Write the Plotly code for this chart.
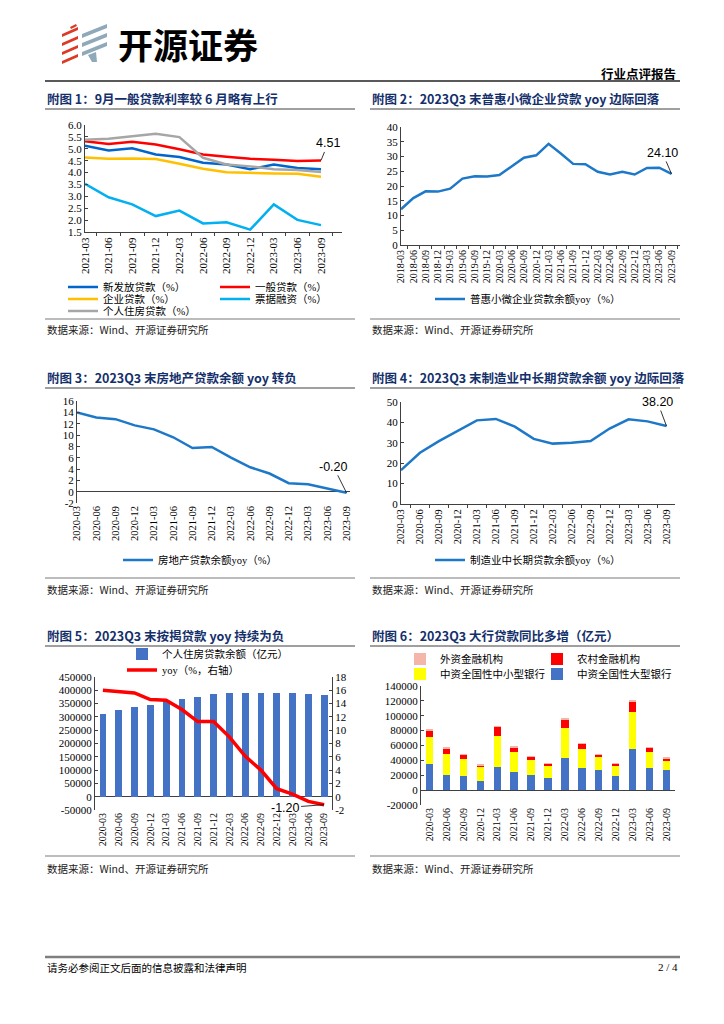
import plotly.graph_objects as go

W, H = 724, 1024
SERIF = "Liberation Serif, Noto Sans CJK SC"
CJK = "Noto Sans CJK SC"
SANS = "Liberation Sans, Arial"
AX = "#404040"
NAVY = "#14306B"

# ---------------- data ----------------
cats1 = ["2021-03", "2021-06", "2021-09", "2021-12", "2022-03", "2022-06",
         "2022-09", "2022-12", "2023-03", "2023-06", "2023-09"]
new_loan = [5.13, 4.93, 5.02, 4.76, 4.65, 4.41, 4.34, 4.14, 4.34, 4.19, 4.14]
general_loan = [5.32, 5.20, 5.30, 5.18, 4.98, 4.76, 4.66, 4.58, 4.54, 4.49, 4.51]
corp_loan = [4.63, 4.58, 4.59, 4.57, 4.37, 4.16, 4.01, 3.97, 3.96, 3.95, 3.82]
bill_fin = [3.53, 2.96, 2.66, 2.17, 2.40, 1.86, 1.91, 1.60, 2.66, 2.01, 1.79]
mortgage_rate = [5.38, 5.42, 5.53, 5.63, 5.49, 4.62, 4.34, 4.26, 4.14, 4.11, 4.02]
ticks1 = [1.5, 2.0, 2.5, 3.0, 3.5, 4.0, 4.5, 5.0, 5.5, 6.0]
ticktext1 = ["1.5", "2.0", "2.5", "3.0", "3.5", "4.0", "4.5", "5.0", "5.5", "6.0"]

cats2 = ["2018-03", "2018-06", "2018-09", "2018-12", "2019-03", "2019-06",
         "2019-09", "2019-12", "2020-03", "2020-06", "2020-09", "2020-12",
         "2021-03", "2021-06", "2021-09", "2021-12", "2022-03", "2022-06",
         "2022-09", "2022-12", "2023-03", "2023-06", "2023-09"]
inclusive_yoy = [12.1, 15.9, 18.2, 18.1, 19.1, 22.5, 23.3, 23.2, 23.7, 26.6,
                 29.6, 30.4, 34.3, 31.0, 27.5, 27.4, 24.8, 23.9, 24.8, 23.9,
                 26.1, 26.2, 24.1]
ticks2 = [0, 5, 10, 15, 20, 25, 30, 35, 40]
ticktext2 = ["0", "5", "10", "15", "20", "25", "30", "35", "40"]

cats3 = ["2020-03", "2020-06", "2020-09", "2020-12", "2021-03", "2021-06",
         "2021-09", "2021-12", "2022-03", "2022-06", "2022-09", "2022-12",
         "2023-03", "2023-06", "2023-09"]
realestate_yoy = [13.97, 13.1, 12.8, 11.7, 11.0, 9.6, 7.7, 7.9, 6.0, 4.3,
                  3.2, 1.5, 1.3, 0.6, -0.2]
ticks3 = [-2, 0, 2, 4, 6, 8, 10, 12, 14, 16]
ticktext3 = ["-2", "0", "2", "4", "6", "8", "10", "12", "14", "16"]

manu_yoy = [16.6, 25.1, 30.8, 35.7, 41.0, 41.7, 37.9, 31.9, 29.6, 30.0,
            30.9, 37.0, 41.5, 40.5, 38.2]
ticks4 = [0, 10, 20, 30, 40, 50]
ticktext4 = ["0", "10", "20", "30", "40", "50"]

mortgage_bal = [311000, 326000, 337000, 346000, 358000, 366000, 376000,
                385000, 390000, 391000, 389000, 388000, 389000, 387000, 384000]
mortgage_yoy = [16.0, 15.8, 15.6, 14.6, 14.5, 13.1, 11.3, 11.3, 9.0, 6.1,
                4.0, 1.2, 0.4, -0.7, -1.2]
ticks5 = [-50000, 0, 50000, 100000, 150000, 200000, 250000, 300000, 350000,
          400000, 450000]
ticktext5 = ["-50000", "0", "50000", "100000", "150000", "200000", "250000",
             "300000", "350000", "400000", "450000"]
ticks5r = [-2, 0, 2, 4, 6, 8, 10, 12, 14, 16, 18]
ticktext5r = ["-2", "0", "2", "4", "6", "8", "10", "12", "14", "16", "18"]

big_banks = [35000, 20200, 18400, 12600, 31400, 24700, 19700, 16100, 43000,
             29600, 26500, 18400, 55200, 29600, 26900]
mid_small_banks = [35800, 28200, 23700, 18800, 41200, 26400, 20700, 16600,
                   40000, 26000, 17900, 14300, 50200, 21500, 12100]
rural_inst = [9900, 7600, 5400, 2200, 12600, 6700, 4400, 2700, 12100, 6700,
              3100, 2700, 14300, 5900, 4000]
foreign_inst = [900, 1000, 500, 1400, 900, 900, 900, 900, 900, 900, 900,
                900, 900, 800, 500]
ticks6 = [-20000, 0, 20000, 40000, 60000, 80000, 100000, 120000, 140000]
ticktext6 = ["-20000", "0", "20000", "40000", "60000", "80000", "100000",
             "120000", "140000"]

titles = ["附图 1：9月一般贷款利率较 6 月略有上行",
          "附图 2：2023Q3 末普惠小微企业贷款 yoy 边际回落",
          "附图 3：2023Q3 末房地产贷款余额 yoy 转负",
          "附图 4：2023Q3 末制造业中长期贷款余额 yoy 边际回落",
          "附图 5：2023Q3 末按揭贷款 yoy 持续为负",
          "附图 6：2023Q3 大行贷款同比多增（亿元）"]
source_text = "数据来源：Wind、开源证券研究所"


def X(p):
    return p / W


def Y(p):
    return 1 - p / H


fig = go.Figure()

# ---------------- chart 1 ----------------
c1 = [("新发放贷款（%）", new_loan, "#0066CC", "legend"),
      ("一般贷款（%）", general_loan, "#FF0000", "legend"),
      ("企业贷款（%）", corp_loan, "#FFC000", "legend2"),
      ("票据融资（%）", bill_fin, "#00B0F0", "legend2"),
      ("个人住房贷款（%）", mortgage_rate, "#A6A6A6", "legend3")]
for name, vals, col, lg in c1:
    fig.add_trace(go.Scatter(x=cats1, y=vals, name=name, mode="lines",
                             line=dict(color=col, width=2.5),
                             xaxis="x", yaxis="y", legend=lg))

# ---------------- chart 2 ----------------
fig.add_trace(go.Scatter(x=cats2, y=inclusive_yoy, name="普惠小微企业贷款余额yoy（%）",
                         mode="lines", line=dict(color="#1E78C8", width=2.5),
                         xaxis="x2", yaxis="y2", legend="legend4"))
# ---------------- chart 3 ----------------
fig.add_trace(go.Scatter(x=cats3, y=realestate_yoy, name="房地产贷款余额yoy（%）",
                         mode="lines", line=dict(color="#1E78C8", width=2.5),
                         xaxis="x3", yaxis="y3", legend="legend5"))
# ---------------- chart 4 ----------------
fig.add_trace(go.Scatter(x=cats3, y=manu_yoy, name="制造业中长期贷款余额yoy（%）",
                         mode="lines", line=dict(color="#1E78C8", width=2.5),
                         xaxis="x4", yaxis="y4", legend="legend6"))
# ---------------- chart 5 ----------------
fig.add_trace(go.Bar(x=cats3, y=mortgage_bal, name="个人住房贷款余额（亿元）",
                     marker=dict(color="#4472C4", line=dict(width=0)),
                     xaxis="x5", yaxis="y5", legend="legend7"))
fig.add_trace(go.Scatter(x=cats3, y=mortgage_yoy, name="yoy（%，右轴）",
                         mode="lines", line=dict(color="#FF0000", width=3.5),
                         xaxis="x5", yaxis="y6", legend="legend8"))
# ---------------- chart 6 ----------------
c6 = [("中资全国性大型银行", big_banks, "#4472C4", "legend10", 2),
      ("中资全国性中小型银行", mid_small_banks, "#FFFF00", "legend10", 1),
      ("农村金融机构", rural_inst, "#FF0000", "legend9", 2),
      ("外资金融机构", foreign_inst, "#F4B6A8", "legend9", 1)]
for name, vals, col, lg, rk in c6:
    fig.add_trace(go.Bar(x=cats3, y=vals, name=name,
                         marker=dict(color=col, line=dict(width=0)),
                         xaxis="x6", yaxis="y7", legend=lg, legendrank=rk))


# ---------------- axes ----------------
def xcat(x0, x1, anchor, line=True, size=10.5):
    return dict(domain=[X(x0), X(x1)], anchor=anchor, type="category",
                tickangle=-90, showgrid=False, zeroline=False, automargin=False,
                tickfont=dict(family=SERIF, size=size, color="black"),
                showline=line, linecolor=AX, linewidth=1,
                ticks="outside" if line else "", ticklen=3, tickcolor=AX,
                tickson="boundaries", fixedrange=True)


def ylin(y0, y1, anchor, rng, tv, tt, zero=False, side="left", line=True):
    return dict(domain=[Y(y1), Y(y0)], anchor=anchor, range=rng,
                tickmode="array", tickvals=tv, ticktext=tt, side=side,
                showgrid=False, zeroline=zero, zerolinecolor=AX, automargin=False,
                zerolinewidth=1, showline=line, linecolor=AX, linewidth=1,
                ticks="inside", ticklen=3, tickcolor=AX,
                tickfont=dict(family=SERIF, size=11, color="black"),
                fixedrange=True)


layout_axes = dict(
    xaxis=xcat(85, 342, "y", size=11),
    yaxis=ylin(125, 232, "x", [1.5, 6.0], ticks1, ticktext1),
    xaxis2=xcat(401, 680, "y2", size=10),
    yaxis2=ylin(127, 245, "x2", [0, 40], ticks2, ticktext2),
    xaxis3=xcat(77, 350, "y3", line=False),
    yaxis3=ylin(401, 503, "x3", [-2, 16], ticks3, ticktext3, zero=True),
    xaxis4=xcat(401, 675, "y4"),
    yaxis4=ylin(402, 504, "x4", [0, 50], ticks4, ticktext4),
    xaxis5=xcat(95, 332, "y5", line=False, size=10),
    yaxis5=ylin(677, 810, "x5", [-50000, 450000], ticks5, ticktext5, zero=True),
    yaxis6=dict(ylin(677, 810, "x5", [-2, 18], ticks5r, ticktext5r, side="right"),
                overlaying="y5"),
    xaxis6=xcat(421, 675, "y7", line=False, size=10),
    yaxis7=ylin(686, 805, "x6", [-20000, 140000], ticks6, ticktext6, zero=True),
)


# ---------------- legends ----------------
def leg(x, y, ew=None):
    d = dict(x=X(x), y=Y(y), xanchor="left", yanchor="middle", orientation="h",
             bgcolor="rgba(0,0,0,0)", borderwidth=0, traceorder="normal",
             font=dict(family=SERIF, size=10.5, color="black"),
             itemclick=False, itemdoubleclick=False)
    if ew:
        d.update(entrywidth=ew, entrywidthmode="pixels")
    return d


legends = dict(
    legend=leg(63, 287, 107), legend2=leg(63, 299, 107), legend3=leg(63, 311),
    legend4=leg(430, 299), legend5=leg(118, 560), legend6=leg(430, 560),
    legend7=leg(122, 654), legend8=leg(122, 670),
    legend9=leg(400, 659, 92), legend10=leg(400, 674, 92),
)

# ---------------- annotations / shapes ----------------
ann = []
shapes = []


def text(x, y, s, size=10.5, color="black", family=CJK, anchor="left", bold=False):
    ann.append(dict(xref="paper", yref="paper", x=X(x), y=Y(y), text=f"<b>{s}</b>" if bold else s,
                    showarrow=False, xanchor=anchor, yanchor="middle",
                    font=dict(family=family, size=size, color=color)))


def hline(x0, x1, y, color, width):
    shapes.append(dict(type="line", xref="paper", yref="paper", x0=X(x0), x1=X(x1),
                       y0=Y(y), y1=Y(y), line=dict(color=color, width=width)))


def path(pts, color):
    d = "M " + " L ".join(f"{X(a):.5f},{Y(b):.5f}" for a, b in pts) + " Z"
    shapes.append(dict(type="path", xref="paper", yref="paper", path=d,
                       fillcolor=color, line=dict(width=0)))


# header
for y0 in [31, 40, 49, 58]:
    path([(62, y0 + 3), (78, y0 - 4), (78, y0 - 1), (62, y0 + 6)], "#DB3B26")
path([(70, 27), (76, 24), (77, 26), (71, 29)], "#DB3B26")
for y0 in [30, 39, 48]:
    path([(82, y0 + 4), (107, y0 - 6), (107, y0 - 2), (82, y0 + 8)], "#8FA9BA")
path([(88, 55), (96, 52), (97, 62), (92, 62)], "#8FA9BA")
text(116, 43, "开源证券", size=35, bold=True)
text(678, 73, "行业点评报告", size=12.5, anchor="right", bold=True)
hline(45, 680, 81, "#222222", 1.6)

# titles and separator lines
title_pos = [(45, 98), (370, 98), (45, 377), (370, 377), (45, 635), (370, 635)]
for (tx, ty), t in zip(title_pos, titles):
    text(tx, ty, t, size=12.5, color=NAVY, bold=True)
    hline(tx, tx + 310, ty + 11, "#404040", 1)
for sy, ty in [(319, 329), (578, 589), (856, 868)]:
    for sx in [45, 370]:
        hline(sx, sx + 310, sy, "#A6A6A6", 1.5)
        text(sx, ty, source_text, size=10.5, color="#222222")

# footer
hline(45, 680, 957, "#7F7F7F", 2.5)
text(45, 967, "请务必参阅正文后面的信息披露和法律声明", size=10.5)
text(680, 967, "2 / 4", size=11, family=SERIF, anchor="right")


# value callouts
def callout(xr, yr, xv, yv, s, ax, ay):
    ann.append(dict(xref=xr, yref=yr, x=xv, y=yv, text=s, showarrow=True,
                    arrowhead=0, arrowwidth=0.8, arrowcolor="black", ax=ax, ay=ay,
                    standoff=0, font=dict(family=SANS, size=12.5, color="black")))


callout("x", "y", cats1[-1], general_loan[-1], "4.51", 7, -17)
callout("x2", "y2", cats2[-1], inclusive_yoy[-1], "24.10", -9, -21)
callout("x3", "y3", cats3[-1], realestate_yoy[-1], "-0.20", -13, -26)
callout("x4", "y4", cats3[-1], manu_yoy[-1], "38.20", -9, -24)
callout("x5", "y6", cats3[-1], mortgage_yoy[-1], "-1.20", -39, 3)

fig.update_layout(
    width=W, height=H, margin=dict(l=0, r=0, t=0, b=0, autoexpand=False),
    paper_bgcolor="white", plot_bgcolor="white",
    barmode="stack", bargap=0.57, hovermode=False, showlegend=True,
    annotations=ann, shapes=shapes, **layout_axes, **legends,
)

fig.write_html("out.html", config={"displayModeBar": False, "staticPlot": False},
               post_script="document.body.style.margin='0';document.body.style.overflow='hidden';")
